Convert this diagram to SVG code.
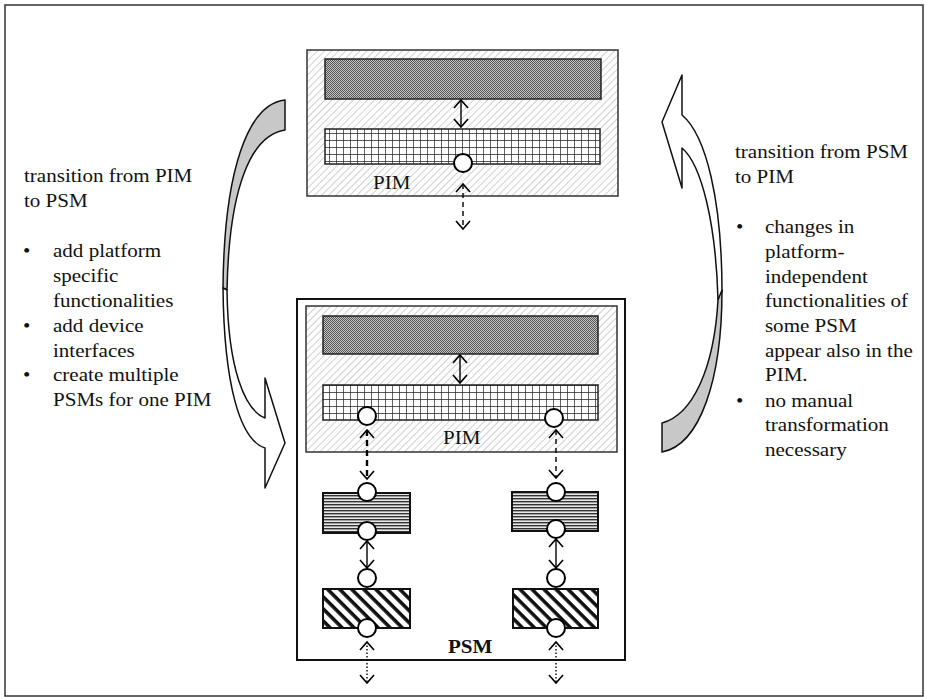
<svg xmlns="http://www.w3.org/2000/svg" width="925" height="697" viewBox="0 0 925 697">
  <style>
    .frame { fill: #fff; stroke: #333; stroke-width: 1.5; }
    .box { stroke: #333; stroke-width: 1.5; }
    .layer { stroke: #222; stroke-width: 1.5; }
    .port { fill: #fff; stroke: #000; stroke-width: 2; }
    .txt { font-family: "Liberation Serif", "Times New Roman", serif; font-size: 18px; fill: #111; }
    .bold { font-weight: bold; }
    .link { fill: none; stroke: #000; stroke-width: 1.4; marker-start: url(#chev); marker-end: url(#chev); }
    .dash { stroke-dasharray: 5 4; }
    .dashB { stroke-width: 2.4; stroke-dasharray: 6 4; }
    .dot { stroke-dasharray: 1.5 2; }
    .bend { stroke: #111; stroke-width: 1.5; stroke-linejoin: round; }
  </style>
  <defs>
    <pattern id="hatch" patternUnits="userSpaceOnUse" width="5" height="5" patternTransform="rotate(45)">
      <rect width="5" height="5" fill="#fff"/>
      <line x1="0" y1="0" x2="0" y2="5" stroke="#b0b0b0" stroke-width="1.2"/>
    </pattern>
    <pattern id="dots" patternUnits="userSpaceOnUse" width="2" height="2">
      <rect width="2" height="2" fill="#c4c4c4"/>
      <rect width="1" height="1" fill="#555"/>
      <rect x="1" y="1" width="1" height="1" fill="#555"/>
    </pattern>
    <pattern id="grid" patternUnits="userSpaceOnUse" width="7" height="7">
      <rect width="7" height="7" fill="#fff"/>
      <path d="M0,0 H7 M0,0 V7" stroke="#222" stroke-width="1.4"/>
    </pattern>
    <pattern id="hstripe" patternUnits="userSpaceOnUse" width="4" height="3">
      <rect width="4" height="3" fill="#e8e8e8"/>
      <rect width="4" height="1.4" fill="#333"/>
    </pattern>
    <pattern id="diag" patternUnits="userSpaceOnUse" width="8.5" height="8.5" patternTransform="rotate(-45)">
      <rect width="8.5" height="8.5" fill="#fff"/>
      <line x1="2" y1="0" x2="2" y2="8.5" stroke="#111" stroke-width="3.6"/>
    </pattern>
    <marker id="chev" markerUnits="userSpaceOnUse" viewBox="0 0 12 16" markerWidth="12" markerHeight="16" refX="10" refY="8" orient="auto-start-reverse">
      <path d="M2,1 L10,8 L2,15" fill="none" stroke="#000" stroke-width="1.6"/>
    </marker>
  </defs>

  <!-- page frame -->
  <rect class="frame" x="5" y="5" width="918" height="691"/>

  <!-- curved transition arrows -->
  <g id="arrow-pim-to-psm">
    <path class="bend" fill="#c8c8c8" d="M285,100 C248,104 224,170 223,288 L227,290 C229,185 252,135 285,130 Z"/>
    <path class="bend" fill="#fff" d="M227,290 C228,370 245,410 265,418 L265,378 L285,443 L265,488 L265,448 C240,440 224,385 223,288 Z"/>
  </g>
  <g id="arrow-psm-to-pim">
    <path class="bend" fill="#fff" d="M718,300 C716,225 702,165 682,148 L682,188 L662,122 L682,75 L682,115 C706,135 722,200 722,292 Z"/>
    <path class="bend" fill="#c8c8c8" d="M722,290 C722,380 700,445 662,452 L662,423 C692,415 714,370 718,300 Z"/>
  </g>

  <!-- side notes -->
  <g id="note-left" transform="scale(1.17 1)">
    <text class="txt" x="20.5" y="182">transition from PIM</text>
    <text class="txt" x="20.5" y="207">to PSM</text>
    <text class="txt" x="19.7" y="257">•</text>
    <text class="txt" x="45.3" y="257">add platform</text>
    <text class="txt" x="45.3" y="282">specific</text>
    <text class="txt" x="45.3" y="307">functionalities</text>
    <text class="txt" x="19.7" y="332">•</text>
    <text class="txt" x="45.3" y="332">add device</text>
    <text class="txt" x="45.3" y="357">interfaces</text>
    <text class="txt" x="19.7" y="381">•</text>
    <text class="txt" x="45.3" y="381">create multiple</text>
    <text class="txt" x="45.3" y="406">PSMs for one PIM</text>
  </g>
  <g id="note-right" transform="scale(1.17 1)">
    <text class="txt" x="628.2" y="158">transition from PSM</text>
    <text class="txt" x="628.2" y="183">to PIM</text>
    <text class="txt" x="629.1" y="233">•</text>
    <text class="txt" x="653.8" y="233">changes in</text>
    <text class="txt" x="653.8" y="258">platform-</text>
    <text class="txt" x="653.8" y="283">independent</text>
    <text class="txt" x="653.8" y="307">functionalities of</text>
    <text class="txt" x="653.8" y="332">some PSM</text>
    <text class="txt" x="653.8" y="357">appear also in the</text>
    <text class="txt" x="653.8" y="381">PIM.</text>
    <text class="txt" x="629.1" y="407">•</text>
    <text class="txt" x="653.8" y="407">no manual</text>
    <text class="txt" x="653.8" y="431">transformation</text>
    <text class="txt" x="653.8" y="456">necessary</text>
  </g>

  <!-- platform independent model -->
  <g id="pim-top">
    <rect class="box" x="307" y="50" width="311" height="146" fill="url(#hatch)"/>
    <rect class="layer" x="325" y="59" width="276" height="40" fill="url(#dots)"/>
    <rect class="layer" x="325" y="129" width="275" height="35" fill="url(#grid)"/>
    <text class="txt" x="318.8" y="189" transform="scale(1.17 1)">PIM</text>
  </g>

  <!-- platform specific model -->
  <g id="psm">
    <rect x="297" y="299" width="328" height="361" fill="#fff" stroke="#111" stroke-width="2"/>
    <g id="psm-pim">
      <rect class="box" x="306" y="306" width="311" height="146" fill="url(#hatch)"/>
      <rect class="layer" x="323" y="316" width="275" height="38" fill="url(#dots)"/>
      <rect class="layer" x="323" y="385" width="275" height="35" fill="url(#grid)"/>
      <text class="txt" x="378.6" y="444" transform="scale(1.17 1)">PIM</text>
    </g>
    <g id="adapter-left">
      <rect x="323" y="493" width="87" height="40" fill="url(#hstripe)" stroke="#111" stroke-width="2"/>
    </g>
    <g id="adapter-right">
      <rect x="512" y="492" width="86" height="39" fill="url(#hstripe)" stroke="#111" stroke-width="2"/>
    </g>
    <g id="device-left">
      <rect x="323" y="589" width="87" height="39" fill="url(#diag)" stroke="#111" stroke-width="2"/>
    </g>
    <g id="device-right">
      <rect x="513" y="589" width="85" height="39" fill="url(#diag)" stroke="#111" stroke-width="2"/>
    </g>
    <text class="txt bold" x="382.9" y="653" transform="scale(1.17 1)">PSM</text>
  </g>

  <!-- connectors -->
  <g id="connectors">
    <line class="link" x1="461" y1="100" x2="461" y2="127"/>
    <line class="link dash" x1="463" y1="184" x2="463" y2="229"/>
    <line class="link" x1="460" y1="355" x2="460" y2="383"/>
    <line class="link dashB" x1="367" y1="430" x2="367" y2="479"/>
    <line class="link dash" x1="556" y1="430" x2="556" y2="478"/>
    <line class="link" x1="367" y1="541" x2="367" y2="568"/>
    <line class="link" x1="556" y1="539" x2="556" y2="568"/>
    <line class="link dot" x1="367" y1="642" x2="367" y2="683"/>
    <line class="link dot" x1="556" y1="642" x2="556" y2="683"/>
  </g>

  <!-- interface ports -->
  <g id="ports">
    <circle class="port" cx="463" cy="163" r="9"/>
    <circle class="port" cx="367" cy="416" r="9"/>
    <circle class="port" cx="554" cy="418" r="9"/>
    <circle class="port" cx="367" cy="492" r="9"/>
    <circle class="port" cx="367" cy="531" r="9"/>
    <circle class="port" cx="556" cy="492" r="9"/>
    <circle class="port" cx="556" cy="529" r="9"/>
    <circle class="port" cx="367" cy="578" r="9"/>
    <circle class="port" cx="556" cy="578" r="9"/>
    <circle class="port" cx="367" cy="628" r="9"/>
    <circle class="port" cx="556" cy="628" r="9"/>
  </g>
</svg>
